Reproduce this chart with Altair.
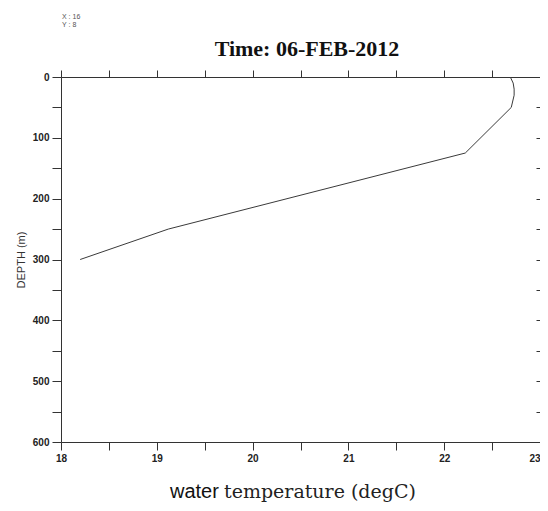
import altair as alt
import pandas as pd

# ---- data ----
depth = [0, 10, 20, 30, 50, 125, 250, 300]
temp = [22.69, 22.72, 22.73, 22.73, 22.70, 22.22, 19.12, 18.20]

x_ticks = [18, 18.5, 19, 19.5, 20, 20.5, 21, 21.5, 22, 22.5, 23]
y_ticks = [0, 50, 100, 150, 200, 250, 300, 350, 400, 450, 500, 550, 600]

title_text = ["Time: 06-FEB-2012"]
note_x = ["X : 16"]
note_y = ["Y : 8"]
xtitle_sans = ["water"]
xtitle_serif = ["temperature (degC)"]
ytitle = "DEPTH (m)"

df = pd.DataFrame({"depth": depth, "temp": temp})

W, H = 479, 365
AX = "#333333"
LABEL_FONT = "Liberation Sans"

xscale = alt.Scale(domain=[18, 23], nice=False, zero=False)
yscale = alt.Scale(domain=[0, 600], reverse=True, nice=False, zero=False)

line = alt.Chart(df).mark_line(color="#3a3a3a", strokeWidth=1).encode(
    x=alt.X("temp:Q", scale=xscale,
            axis=alt.Axis(orient="bottom", values=x_ticks, title=None, grid=False, domain=False,
                          labelExpr="datum.value % 1 == 0 ? format(datum.value, 'd') : ''",
                          labelFlush=False, labelOverlap=False,
                          labelAlign=alt.expr("datum.value >= 23 ? 'right' : 'center'"),
                          tickSize=8, tickColor=AX, labelPadding=3, labelFont=LABEL_FONT,
                          labelFontSize=10, labelFontWeight="bold", labelColor="#222222")),
    y=alt.Y("depth:Q", scale=yscale,
            axis=alt.Axis(orient="left", values=y_ticks, title=ytitle, grid=False, domain=False,
                          labelExpr="datum.value % 100 == 0 ? format(datum.value, 'd') : ''",
                          labelFlush=False, labelOverlap=False,
                          tickSize=9, tickColor=AX, labelPadding=3, labelFont=LABEL_FONT,
                          labelFontSize=10, labelFontWeight="bold", labelColor="#222222",
                          titleFont=LABEL_FONT, titleFontSize=11, titleFontWeight="normal",
                          titleColor="#333333", titlePadding=6)),
    order="depth:Q",
)

frame_axes = alt.Chart(df).mark_line(opacity=0).encode(
    x=alt.X("temp:Q", scale=xscale,
            axis=alt.Axis(orient="top", values=x_ticks, labels=False, title=None, grid=False,
                          domain=False, tickSize=7, tickColor=AX)),
    y=alt.Y("depth:Q", scale=yscale,
            axis=alt.Axis(orient="right", values=y_ticks, labels=False, title=None, grid=False,
                          domain=False, tickSize=4, offset=-4, tickColor=AX)),
)

title = alt.Chart(pd.DataFrame({"t": title_text})).mark_text(
    font="Liberation Serif", fontSize=22, fontWeight="bold", color="#111111",
    align="center", baseline="alphabetic"
).encode(x=alt.value(246), y=alt.value(-21.5), text="t:N")

nx = alt.Chart(pd.DataFrame({"t": note_x})).mark_text(
    font=LABEL_FONT, fontSize=7, color="#555555", align="left", baseline="alphabetic"
).encode(x=alt.value(1), y=alt.value(-58), text="t:N")

ny = alt.Chart(pd.DataFrame({"t": note_y})).mark_text(
    font=LABEL_FONT, fontSize=7, color="#555555", align="left", baseline="alphabetic"
).encode(x=alt.value(1), y=alt.value(-50.5), text="t:N")

xt1 = alt.Chart(pd.DataFrame({"t": xtitle_sans})).mark_text(
    font=LABEL_FONT, fontSize=20, color="#111111", align="left", baseline="alphabetic"
).encode(x=alt.value(109), y=alt.value(421), text="t:N")

xt2 = alt.Chart(pd.DataFrame({"t": xtitle_serif})).mark_text(
    font="DejaVu Serif", fontSize=19, color="#222222", align="left", baseline="alphabetic"
).encode(x=alt.value(163), y=alt.value(421), text="t:N")

chart = (
    alt.layer(line, frame_axes, title, nx, ny, xt1, xt2)
    .resolve_axis(x="independent", y="independent")
    .properties(width=W, height=H, autosize="none",
                padding={"left": 53, "top": 69, "right": 0, "bottom": 61})
    .configure_view(stroke=AX, strokeWidth=1)
)

chart.save("out.html", embed_options={"renderer": "svg", "actions": False})
